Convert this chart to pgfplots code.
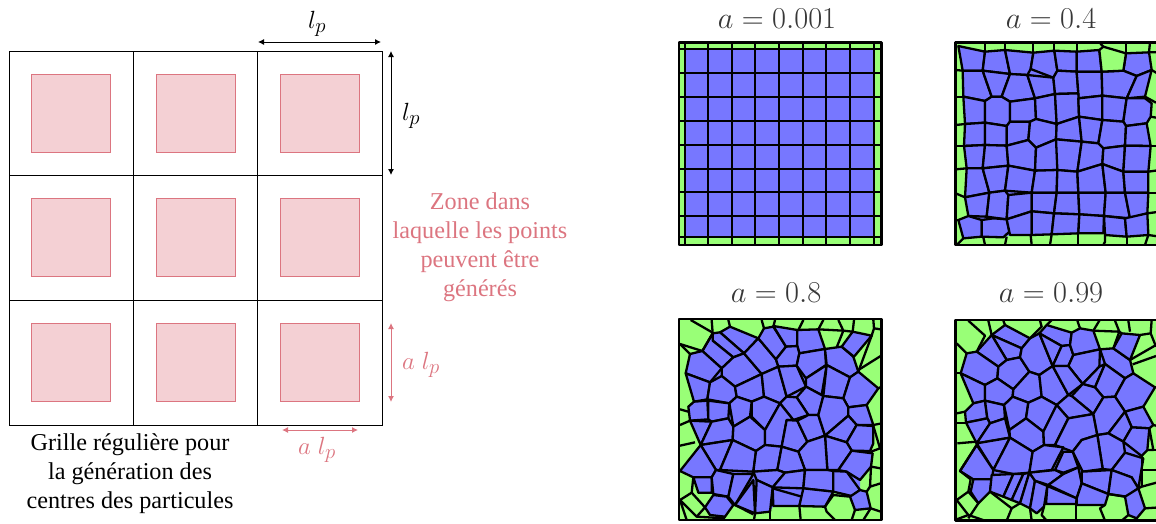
\documentclass[border=0pt]{standalone}
\usepackage[no-math]{fontspec}
\setmainfont{Liberation Serif}
\usepackage{pgfplots}
\pgfplotsset{compat=1.18}
\usetikzlibrary{arrows.meta}
\definecolor{cellblue}{HTML}{7777FF}
\definecolor{cellgreen}{HTML}{99FF77}
\definecolor{pinkline}{HTML}{DC7580}
\definecolor{pinkfill}{HTML}{F4D0D4}
\definecolor{titlegray}{HTML}{383838}
\pgfplotsset{
  frame/.style={hide axis,scale only axis,y dir=reverse,anchor=south west},
  panel/.style 2 args={frame,width=#1pt,height=#2pt,xmin=0,xmax=3*#1,ymin=0,ymax=3*#2},
}
\newcommand\cell[1]{\addplot[fill=cellblue,draw=black,line width=2.3pt,line join=round] coordinates {#1} -- cycle;}
\newcommand\hull[1]{\addplot[fill=cellblue,draw=none] coordinates {#1} -- cycle;}
\newcommand\gcell[1]{\addplot[fill=cellgreen,draw=black,line width=2.3pt,line join=round] coordinates {#1} -- cycle;}
\newcommand\edge[1]{\addplot[draw=black,line width=2.3pt,line join=round] coordinates {#1};}
\newcommand\back[4]{\addplot[fill=cellgreen,draw=none] coordinates {(#1,#2)(#3,#2)(#3,#4)(#1,#4)} -- cycle;}
\newcommand\outline[4]{\addplot[draw=black,line width=2.8pt,line join=round] coordinates {(#1,#2)(#3,#2)(#3,#4)(#1,#4)} -- cycle;}
\newcommand\zone[2]{\addplot[fill=pinkfill,draw=pinkline,line width=1pt] coordinates {(#1,#2)(#1+79,#2)(#1+79,#2+78)(#1,#2+78)} -- cycle;}
\begin{document}
\begin{tikzpicture}[x=1pt,y=1pt]
\useasboundingbox (0,0) rectangle (1156pt,523pt);
% left: the regular grid, in image pixels
\begin{axis}[frame,at={(0pt,0pt)},width=1156pt,height=523pt,xmin=0,xmax=1156,ymin=0,ymax=523]
\zone{31}{74}\zone{156}{74}\zone{280.5}{74}
\zone{31}{198.5}\zone{156}{198.5}\zone{280.5}{198.5}
\zone{31}{323.5}\zone{156}{323.5}\zone{280.5}{323.5}
\addplot[black,line width=1pt] coordinates {(9,51)(382,51)(382,425)(9,425)} -- cycle;
\addplot[black,line width=1pt] coordinates {(133,51)(133,425)};
\addplot[black,line width=1pt] coordinates {(257,51)(257,425)};
\addplot[black,line width=1pt] coordinates {(9,175)(382,175)};
\addplot[black,line width=1pt] coordinates {(9,300)(382,300)};
\addplot[black,line width=0.9pt,{Latex[length=6pt,width=6pt]}-{Latex[length=6pt,width=6pt]}] coordinates {(258,42)(381,42)};
\addplot[black,line width=0.9pt,{Latex[length=6pt,width=6pt]}-{Latex[length=6pt,width=6pt]}] coordinates {(391,51)(391,175)};
\addplot[pinkline,line width=1pt,{Latex[length=6pt,width=6pt]}-{Latex[length=6pt,width=6pt]}] coordinates {(391,323)(391,402)};
\addplot[pinkline,line width=1pt,{Latex[length=6pt,width=6pt]}-{Latex[length=6pt,width=6pt]}] coordinates {(282,430)(358,430)};
\node[font=\fontsize{28}{28}\selectfont] at (317,24) {$l_p$};
\node[font=\fontsize{28}{28}\selectfont] at (411,116) {$l_p$};
\node[font=\fontsize{28}{28}\selectfont,text=pinkline] at (421,365) {$a\ l_p$};
\node[font=\fontsize{28}{28}\selectfont,text=pinkline] at (317,450) {$a\ l_p$};
\node[font=\fontsize{24.2}{29}\selectfont,align=center] at (130,474) {Grille régulière pour\\la génération des\\centres des particules};
\node[font=\fontsize{24.2}{29}\selectfont,align=center,text=pinkline] at (480,247) {Zone dans\\laquelle les points\\peuvent être\\générés};
\node[scale=1.22,font=\fontsize{24.88}{30}\selectfont,text=titlegray] at (777,19) {$a=0.001$};
\node[scale=1.22,font=\fontsize{24.88}{30}\selectfont,text=titlegray] at (1051,19) {$a=0.4$};
\node[scale=1.22,font=\fontsize{24.88}{30}\selectfont,text=titlegray] at (776,293) {$a=0.8$};
\node[scale=1.22,font=\fontsize{24.88}{30}\selectfont,text=titlegray] at (1051,293) {$a=0.99$};
\end{axis}
% a = 0.001
\begin{axis}[panel={230}{260},at={(670pt,263pt)}]
\back{27}{127}{635}{735}
\cell{(46,148)(611,148)(611,712)(46,712)}
\edge{(46,127)(46,735)}\edge{(113,127)(113,735)}\edge{(185,127)(185,735)}
\edge{(256,127)(256,735)}\edge{(327,127)(327,735)}\edge{(398,127)(398,735)}
\edge{(469,127)(469,735)}\edge{(540,127)(540,735)}\edge{(611,127)(611,735)}
\edge{(27,148)(635,148)}\edge{(27,220)(635,220)}\edge{(27,292)(635,292)}
\edge{(27,364)(635,364)}\edge{(27,435)(635,435)}\edge{(27,506)(635,506)}
\edge{(27,577)(635,577)}\edge{(27,648)(635,648)}\edge{(27,712)(635,712)}
\outline{27}{127}{635}{735}
\end{axis}
% a = 0.4
\begin{axis}[panel={216}{260},at={(940pt,263pt)}]
\back{47}{127}{660}{735}
\hull{(55,138)(135,155)(195,150)(280,158)(343,152)(410,155)(478,150)(485,215)(550,212)(558,160)(627,157)(635,210)(615,290)(635,310)(632,350)(620,370)(632,438)(625,515)(625,578)(622,640)(625,705)(560,710)(495,705)(490,700)(415,700)(335,703)(275,705)(210,705)(190,712)(125,710)(70,715)(55,660)(85,648)(75,592)(80,505)(72,438)(75,372)(70,290)(68,212)}
\cell{(55,138)(135,155)(128,212)(68,212)}
\cell{(135,155)(195,150)(210,222)(128,212)}
\cell{(195,150)(280,158)(272,207)(262,225)(210,222)}
\cell{(280,158)(343,152)(352,212)(340,233)(272,207)}
\cell{(343,152)(410,155)(410,215)(352,212)}
\cell{(410,155)(478,150)(485,215)(410,215)}
\cell{(558,160)(627,157)(635,210)(590,228)(550,212)}
\cell{(68,212)(128,212)(155,290)(135,303)(70,290)}
\cell{(128,212)(210,222)(185,290)(155,290)}
\cell{(210,222)(262,225)(285,295)(210,305)(185,290)}
\cell{(262,225)(340,233)(345,282)(285,295)}
\cell{(340,233)(352,212)(410,215)(415,280)(345,282)}
\cell{(410,215)(485,215)(487,287)(415,295)(415,280)}
\cell{(485,215)(550,212)(590,228)(560,295)(487,287)}
\cell{(590,228)(635,210)(615,290)(560,295)}
\cell{(70,290)(135,303)(135,368)(75,372)}
\cell{(135,303)(155,290)(185,290)(210,305)(210,365)(200,378)(135,368)}
\cell{(210,305)(285,295)(288,357)(270,365)(210,365)}
\cell{(285,295)(345,282)(350,372)(288,357)}
\cell{(345,282)(415,280)(417,350)(350,372)}
\cell{(415,295)(487,287)(487,360)(417,350)}
\cell{(487,287)(560,295)(550,365)(487,360)}
\cell{(560,295)(615,295)(635,310)(632,350)(620,370)(558,378)(550,365)}
\cell{(75,372)(135,368)(135,435)(72,438)}
\cell{(135,368)(200,378)(200,437)(135,435)}
\cell{(200,378)(210,365)(270,365)(265,420)(200,437)}
\cell{(270,365)(288,357)(350,372)(348,418)(288,443)(265,420)}
\cell{(350,372)(417,350)(425,425)(348,418)}
\cell{(417,350)(487,360)(475,430)(425,425)}
\cell{(487,360)(550,365)(558,378)(555,437)(490,445)(475,430)}
\cell{(558,378)(620,370)(632,438)(555,437)}
\cell{(72,438)(135,435)(128,505)(80,505)}
\cell{(135,435)(200,437)(205,497)(128,505)}
\cell{(200,437)(265,420)(288,443)(285,512)(205,497)}
\cell{(288,443)(348,418)(360,430)(352,510)(285,512)}
\cell{(348,418)(425,425)(412,515)(352,510)}
\cell{(425,425)(475,430)(490,445)(487,492)(412,515)}
\cell{(490,445)(555,437)(550,515)(487,492)}
\cell{(555,437)(632,438)(625,515)(550,515)}
\cell{(80,505)(128,505)(148,578)(75,592)}
\cell{(128,505)(205,497)(195,572)(148,578)}
\cell{(205,497)(285,512)(275,578)(195,572)}
\cell{(285,512)(352,510)(350,578)(275,578)}
\cell{(352,510)(412,515)(415,578)(350,578)}
\cell{(412,515)(487,492)(497,578)(415,578)}
\cell{(487,492)(550,515)(555,578)(497,578)}
\cell{(550,515)(625,515)(625,578)(555,578)}
\cell{(75,592)(148,578)(140,650)(85,648)}
\cell{(148,578)(195,572)(205,585)(200,658)(140,650)}
\cell{(205,585)(275,578)(275,634)(200,658)}
\cell{(275,578)(350,578)(342,640)(275,634)}
\cell{(350,578)(415,578)(418,643)(342,640)}
\cell{(415,578)(497,578)(492,648)(418,643)}
\cell{(497,578)(555,578)(570,655)(492,648)}
\cell{(555,578)(625,578)(622,640)(570,655)}
\cell{(85,648)(125,660)(125,710)(70,715)(55,660)}
\cell{(125,660)(160,655)(200,658)(208,695)(190,712)(125,710)}
\cell{(200,658)(275,634)(275,705)(210,705)}
\cell{(275,634)(342,640)(335,703)(275,705)}
\cell{(342,640)(418,643)(415,700)(335,703)}
\cell{(418,643)(492,648)(490,700)(415,700)}
\cell{(492,648)(555,655)(560,710)(495,705)}
\cell{(555,655)(622,640)(625,705)(560,710)}
\gcell{(478,150)(490,140)(558,160)(550,212)(485,215)}
\edge{(135,127)(135,155)}\edge{(195,127)(195,150)}\edge{(280,127)(280,158)}
\edge{(343,127)(343,152)}\edge{(410,127)(410,155)}\edge{(478,127)(490,140)}
\edge{(558,127)(558,160)}\edge{(630,127)(627,157)(660,157)}
\edge{(47,210)(68,212)}\edge{(47,290)(70,290)}\edge{(47,375)(75,372)}
\edge{(47,438)(72,438)}\edge{(47,508)(80,505)}\edge{(47,580)(75,592)}
\edge{(47,660)(55,660)}\edge{(50,735)(70,715)}
\edge{(130,712)(135,735)}\edge{(200,710)(195,735)}
\edge{(272,705)(275,735)}\edge{(335,703)(330,735)}
\edge{(415,700)(415,735)}\edge{(495,705)(495,725)(490,735)}
\edge{(560,710)(560,735)}\edge{(625,705)(615,735)}
\edge{(635,210)(660,225)}\edge{(615,290)(648,308)}\edge{(632,350)(660,355)}
\edge{(632,438)(660,438)}\edge{(625,515)(660,510)}\edge{(625,578)(660,578)}
\edge{(622,640)(660,635)}\edge{(625,705)(660,710)}
\outline{47}{127}{670}{735}
\end{axis}
% a = 0.8
\begin{axis}[panel={230}{253},at={(670pt,0pt)}]
\back{27}{147}{635}{750}
\hull{(128,190)(150,187)(180,170)(265,205)(282,175)(310,168)(382,180)(445,178)(465,237)(515,230)(548,185)(605,197)(552,260)(565,305)(625,355)(590,405)(610,465)(610,520)(600,543)(608,550)(603,590)(570,630)(570,660)(590,665)(602,715)(555,720)(540,680)(490,665)(465,710)(388,708)(310,708)(300,725)(255,730)(195,705)(190,705)(165,740)(120,735)(105,712)(130,675)(125,668)(85,668)(70,622)(30,603)(92,525)(60,452)(55,410)(72,395)(47,310)(60,252)(97,243)}
\cell{(150,187)(180,170)(265,205)(222,250)}
\cell{(128,190)(150,187)(222,250)(190,262)(128,212)}
\cell{(97,243)(128,190)(128,212)(190,262)(155,295)}
\cell{(60,252)(97,243)(155,295)(120,337)(47,310)}
\cell{(155,295)(190,262)(222,250)(275,312)(195,350)(155,318)}
\cell{(222,250)(265,205)(318,268)(325,290)(275,312)}
\cell{(265,205)(282,175)(310,170)(348,230)(318,268)}
\cell{(310,168)(382,180)(382,228)(348,230)}
\cell{(382,180)(445,178)(465,237)(388,250)(382,228)}
\cell{(348,230)(382,228)(388,250)(380,287)(325,290)(318,268)}
\cell{(388,250)(465,237)(468,285)(408,325)(380,287)}
\cell{(465,237)(515,230)(550,260)(565,305)(540,322)(470,285)}
\cell{(515,230)(548,185)(605,197)(552,260)}
\cell{(47,310)(120,337)(112,388)(72,395)}
\cell{(120,337)(155,318)(195,350)(200,380)(178,400)(112,388)}
\cell{(195,350)(275,312)(282,380)(245,395)(200,380)}
\cell{(275,312)(325,290)(350,380)(330,400)(282,380)}
\cell{(325,290)(380,287)(408,350)(350,380)}
\cell{(408,325)(470,285)(455,375)(408,350)}
\cell{(470,285)(540,322)(520,385)(460,378)}
\cell{(540,322)(565,305)(625,355)(590,405)(535,412)(520,385)}
\cell{(408,350)(460,378)(445,435)(415,435)(380,382)}
\cell{(350,380)(380,382)(415,435)(370,450)(330,400)}
\cell{(282,380)(330,400)(285,480)(245,440)(245,395)}
\cell{(200,380)(245,395)(240,440)(190,470)(178,400)}
\cell{(55,410)(72,395)(112,392)(115,448)(60,452)}
\cell{(115,392)(178,400)(175,445)(125,455)(115,448)}
\cell{(60,452)(125,455)(92,525)}
\cell{(125,455)(175,445)(190,470)(188,510)(92,525)}
\cell{(190,470)(240,440)(285,480)(285,525)(258,543)(188,510)}
\cell{(330,400)(370,450)(350,450)(335,530)(285,525)(285,480)}
\cell{(350,450)(382,452)(412,515)(385,545)(335,530)}
\cell{(382,452)(415,435)(445,435)(465,497)(412,515)}
\cell{(445,435)(460,378)(520,385)(535,412)(535,437)(465,497)}
\cell{(535,412)(590,405)(610,465)(560,465)(535,437)}
\cell{(535,437)(560,465)(530,517)(465,497)}
\cell{(560,465)(610,468)(610,520)(600,543)(545,542)(530,517)}
\cell{(465,497)(530,517)(545,542)(505,600)(472,600)}
\cell{(412,515)(465,497)(472,600)(405,600)(385,545)}
\cell{(92,525)(188,510)(150,600)(138,600)}
\cell{(188,510)(258,543)(250,605)(150,600)}
\cell{(258,543)(285,525)(335,530)(322,600)(250,605)}
\cell{(335,530)(385,545)(405,600)(345,608)(322,600)}
\cell{(92,525)(138,600)(125,622)(70,622)(30,603)}
\cell{(70,622)(125,622)(125,668)(85,668)}
\cell{(138,600)(190,612)(175,680)(130,672)(125,622)}
\cell{(190,612)(250,612)(195,705)(175,680)}
\cell{(250,605)(322,600)(345,608)(308,652)(260,630)}
\cell{(345,608)(405,600)(400,655)(308,652)}
\cell{(405,600)(472,600)(490,603)(490,665)(400,655)}
\cell{(505,600)(545,542)(608,550)(603,590)(570,630)(530,605)}
\cell{(490,603)(530,605)(570,660)(545,678)(490,665)}
\cell{(570,660)(590,665)(602,715)(555,720)(540,680)}
\cell{(260,630)(308,652)(300,725)(255,730)}
\cell{(250,630)(255,730)(195,705)}
\cell{(308,655)(395,680)(388,708)(310,708)}
\cell{(400,655)(490,665)(465,710)(388,708)}
\cell{(130,675)(170,680)(190,705)(165,740)(120,735)(105,712)}
\edge{(62,150)(128,188)}\edge{(125,150)(128,190)(97,243)}\edge{(175,150)(180,170)}
\edge{(282,175)(275,150)}\edge{(315,150)(310,170)}\edge{(385,180)(400,150)}
\edge{(445,178)(460,150)}\edge{(445,178)(520,182)(505,150)}\edge{(520,182)(500,232)}
\edge{(520,182)(548,185)(552,150)}\edge{(605,197)(612,175)(632,178)}\edge{(612,175)(610,150)}
\edge{(605,197)(565,305)}\edge{(565,300)(632,258)}\edge{(625,355)(635,350)}
\edge{(610,465)(635,460)}\edge{(610,468)(630,535)(603,545)}
\edge{(603,590)(632,595)}\edge{(603,590)(600,650)(632,640)}\edge{(590,665)(600,650)}
\edge{(602,715)(632,725)}\edge{(602,715)(580,750)}
\edge{(30,222)(60,252)}\edge{(30,222)(97,243)}
\edge{(30,418)(55,425)}\edge{(30,465)(60,452)}\edge{(75,517)(30,527)}
\edge{(70,622)(65,668)(30,690)}\edge{(65,668)(105,712)(80,740)(30,690)(50,750)}
\edge{(165,740)(155,750)}\edge{(195,705)(250,733)}\edge{(255,730)(252,750)}
\edge{(300,725)(300,750)}\edge{(388,708)(392,750)}
\edge{(465,710)(470,725)(495,750)}\edge{(465,710)(490,675)(540,680)}
\edge{(555,720)(545,750)}\edge{(80,740)(165,745)}
\outline{27}{147}{635}{750}
\end{axis}
% a = 0.99
\begin{axis}[panel={216}{253},at={(940pt,0pt)}]
\back{47}{150}{660}{752}
\hull{(110,245)(155,195)(195,165)(270,205)(298,190)(320,165)(395,188)(420,175)(460,182)(480,238)(520,235)(545,190)(600,195)(570,270)(580,310)(645,352)(610,410)(640,465)(628,475)(622,540)(605,558)(610,565)(595,655)(615,715)(590,745)(565,735)(555,680)(505,672)(495,705)(410,705)(408,702)(318,702)(312,710)(290,730)(270,715)(240,700)(215,690)(190,680)(150,665)(115,700)(92,665)(100,628)(60,603)(110,520)(78,458)(75,425)(100,400)(62,310)(80,250)}
\cell{(155,195)(195,165)(270,205)(245,235)}
\cell{(155,195)(245,235)(240,262)(200,270)}
\cell{(110,245)(155,195)(200,270)(175,290)}
\cell{(80,250)(110,245)(175,290)(172,325)(135,345)(62,310)}
\cell{(175,290)(200,270)(240,262)(268,305)(220,358)(172,325)}
\cell{(245,235)(270,205)(298,190)(338,288)(298,315)(268,305)(240,262)}
\cell{(320,165)(395,188)(390,225)(365,228)(298,190)}
\cell{(298,190)(365,228)(338,288)}
\cell{(365,228)(390,225)(400,255)(385,288)(338,288)}
\cell{(395,188)(420,175)(460,182)(480,238)(400,255)(390,225)}
\cell{(400,255)(480,238)(478,290)(428,342)(385,288)}
\cell{(480,238)(520,235)(570,270)(580,310)(555,325)(495,282)}
\cell{(520,235)(545,190)(600,195)(570,270)}
\cell{(62,310)(135,345)(135,392)(100,400)}
\cell{(135,345)(172,325)(220,358)(218,380)(192,405)(135,392)}
\cell{(220,358)(268,305)(298,315)(305,380)(265,398)(218,380)}
\cell{(298,315)(338,288)(385,375)(350,405)(305,380)}
\cell{(338,288)(385,288)(428,342)(385,375)}
\cell{(478,290)(495,282)(465,352)(428,342)}
\cell{(495,282)(555,325)(525,380)(490,382)(465,352)}
\cell{(555,325)(580,310)(645,352)(610,410)(555,425)(525,380)}
\cell{(428,342)(465,352)(490,382)(460,432)(395,378)}
\cell{(385,375)(395,378)(460,432)(385,445)(350,405)}
\cell{(75,425)(100,400)(135,392)(142,445)(78,458)}
\cell{(135,392)(192,405)(195,445)(150,460)(142,445)}
\cell{(192,405)(218,380)(265,398)(258,445)(208,480)}
\cell{(265,398)(305,380)(350,405)(310,485)(258,445)}
\cell{(78,458)(142,445)(150,460)(110,520)}
\cell{(150,460)(195,445)(210,503)(110,520)}
\cell{(208,480)(258,445)(310,485)(312,525)(278,545)(210,503)}
\cell{(350,405)(385,445)(345,525)(312,525)(310,485)}
\cell{(385,445)(460,432)(472,495)(425,510)(398,545)(345,525)}
\cell{(460,432)(490,382)(525,380)(555,425)(505,490)(472,495)}
\cell{(555,425)(610,410)(640,465)(628,475)(575,472)}
\cell{(555,425)(575,472)(550,515)(505,490)}
\cell{(575,472)(628,475)(622,540)(605,558)(550,515)}
\cell{(472,495)(505,490)(550,515)(555,548)(515,600)(488,597)}
\cell{(425,510)(472,495)(488,597)(428,605)(398,545)}
\cell{(110,520)(210,503)(160,600)}
\cell{(210,503)(278,545)(268,608)(220,612)(160,600)}
\cell{(278,545)(312,525)(370,532)(335,600)(268,608)}
\cell{(370,545)(398,545)(415,592)(370,608)(345,600)}
\cell{(110,525)(160,600)(155,628)(100,628)(60,603)}
\cell{(100,628)(155,628)(150,665)(115,700)(92,665)}
\cell{(155,615)(220,612)(190,680)(150,665)}
\cell{(220,612)(250,612)(215,690)(190,680)}
\cell{(250,612)(268,608)(240,700)(215,690)}
\cell{(268,608)(285,632)(270,715)(240,700)}
\cell{(285,632)(322,648)(312,710)(290,730)(270,715)}
\cell{(268,608)(345,600)(370,612)(325,645)(285,632)}
\cell{(415,592)(425,640)(410,685)(325,645)(370,612)}
\cell{(425,605)(515,600)(505,672)(425,640)}
\cell{(515,600)(555,548)(610,565)(595,655)(575,622)}
\cell{(515,600)(575,622)(595,655)(560,680)(505,672)}
\cell{(322,648)(410,685)(408,702)(318,702)}
\cell{(425,640)(505,672)(495,705)(410,705)(410,685)}
\cell{(555,680)(595,655)(615,715)(590,745)(565,735)}
\edge{(85,152)(135,197)(110,245)}\edge{(145,152)(155,195)}\edge{(195,165)(190,152)}
\edge{(270,205)(305,170)(300,152)}\edge{(320,165)(335,150)}\edge{(420,175)(412,152)}
\edge{(460,182)(478,152)}\edge{(460,182)(538,185)(525,152)}\edge{(538,185)(520,235)}
\edge{(545,190)(538,185)}\edge{(570,185)(565,152)}\edge{(600,195)(632,190)(648,230)}
\edge{(632,190)(635,150)}\edge{(578,283)(648,258)}\edge{(570,270)(648,225)}
\edge{(645,352)(660,352)}\edge{(640,465)(660,470)}\edge{(628,475)(640,540)(622,540)}
\edge{(640,540)(660,540)}\edge{(605,558)(605,600)(660,600)}\edge{(605,600)(605,650)(660,635)}
\edge{(595,655)(605,650)}\edge{(615,715)(660,712)}\edge{(590,745)(580,752)}
\edge{(50,220)(80,250)}\edge{(50,310)(62,310)}\edge{(50,430)(75,425)}
\edge{(50,458)(78,458)}\edge{(52,520)(110,515)}\edge{(60,603)(110,525)}
\edge{(60,603)(92,628)}\edge{(92,628)(85,665)(50,690)}\edge{(85,665)(115,700)(85,745)}
\edge{(50,690)(85,735)}\edge{(150,665)(215,715)(200,752)}\edge{(240,700)(215,715)}
\edge{(270,715)(275,752)}\edge{(312,710)(305,735)(320,752)}\edge{(408,702)(408,752)}
\edge{(495,705)(480,715)(495,752)}\edge{(505,672)(555,680)}\edge{(565,735)(545,752)}
\edge{(50,748)(85,735)(135,752)}
\outline{47}{150}{670}{752}
\end{axis}
\end{tikzpicture}
\end{document}
